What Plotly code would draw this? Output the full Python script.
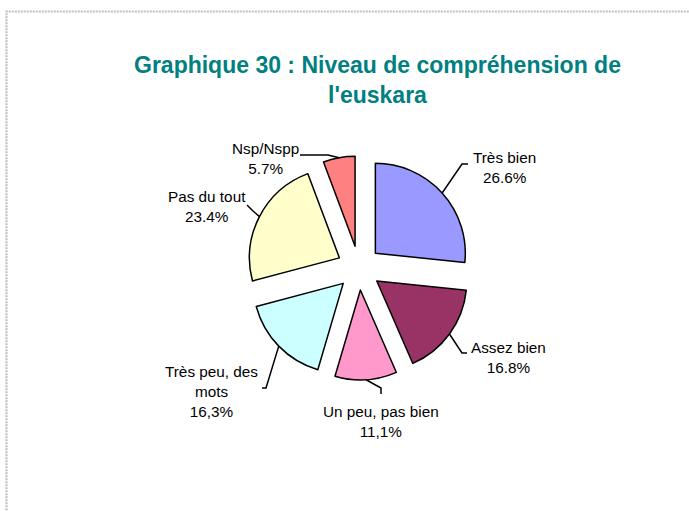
import math
import plotly.graph_objects as go

W, H = 689, 511

# ---- data ----
categories = ["Très bien", "Assez bien", "Un peu, pas bien", "Très peu, des mots", "Pas du tout", "Nsp/Nspp"]
label_lines = ["Très bien", "Assez bien", "Un peu, pas bien", "Très peu, des<br>mots", "Pas du tout", "Nsp/Nspp"]
values = [26.6, 16.8, 11.1, 16.3, 23.4, 5.7]
pct_labels = ["26.6%", "16.8%", "11,1%", "16,3%", "23.4%", "5.7%"]
colors = ["#9999FF", "#993366", "#FF99CC", "#CCFFFF", "#FFFFCC", "#FF8080"]

# ---- layout (pixels) ----
PULL = 0.245
dom_x = [247 / W, 471 / W]
dom_y = [1 - 380 / H, 1 - 156 / H]
label_pos = [(504, 167), (508, 357), (381, 421), (211, 391), (207, 206), (265, 158)]
elbows = [
    [(468, 164), (462, 164)],
    [(467, 353), (462, 353)],
    [(381, 394), (381, 388)],
    [(262, 388), (266, 388)],
    [(247, 205), (253, 211)],
    [(300, 155), (328, 155)],
]

def px(x):
    return x / W

def py(y):
    return 1 - y / H

fig = go.Figure(go.Pie(
    labels=categories,
    values=values,
    sort=False,
    direction="clockwise",
    rotation=0,
    pull=[PULL] * len(values),
    marker=dict(colors=colors, line=dict(color="black", width=1.5)),
    textinfo="none",
    hoverinfo="label+percent",
    showlegend=False,
    domain=dict(x=dom_x, y=dom_y),
))

# geometry of the pie as plotly computes it
bw = (dom_x[1] - dom_x[0]) * W
bh = (dom_y[1] - dom_y[0]) * H
r = min(bw, bh) / (2 * (1 + PULL))
cx = (dom_x[0] + dom_x[1]) / 2 * W
cy = (1 - (dom_y[0] + dom_y[1]) / 2) * H

total = sum(values)
cum = 0.0
shapes = []
annotations = []
for i, v in enumerate(values):
    mid = (cum + v / 2) / total * 2 * math.pi
    cum += v
    dx, dy = math.sin(mid), -math.cos(mid)
    tip = (cx + (1 + PULL) * r * dx, cy + (1 + PULL) * r * dy)
    pts = elbows[i] + [tip]
    path = "M {} {}".format(px(pts[0][0]), py(pts[0][1]))
    for p in pts[1:]:
        path += " L {} {}".format(px(p[0]), py(p[1]))
    shapes.append(dict(type="path", path=path, xref="paper", yref="paper",
                       line=dict(color="black", width=1.5)))
    lx, ly = label_pos[i]
    annotations.append(dict(
        text=label_lines[i] + "<br>" + pct_labels[i],
        x=px(lx), y=py(ly), xref="paper", yref="paper",
        xanchor="center", yanchor="middle", showarrow=False,
        font=dict(family="Liberation Sans, Arial, sans-serif", size=15.3, color="black"),
        align="center",
    ))

# title
annotations.append(dict(
    text="<b>Graphique 30 : Niveau de compréhension de<br>l'euskara</b>",
    x=px(377), y=py(80), xref="paper", yref="paper",
    xanchor="center", yanchor="middle", showarrow=False,
    font=dict(family="Liberation Sans, Arial, sans-serif", size=23, color="#008080"),
    align="center",
))

# dotted frame
shapes.append(dict(type="rect", xref="paper", yref="paper",
                   x0=px(6.5), x1=1.2, y0=-0.2, y1=py(11.5),
                   line=dict(color="#C0C0C0", width=2.2, dash="2px,1px"),
                   fillcolor="rgba(0,0,0,0)"))

fig.update_layout(
    width=W, height=H,
    margin=dict(l=0, r=0, t=0, b=0),
    paper_bgcolor="white", plot_bgcolor="white",
    shapes=shapes, annotations=annotations,
)

fig.write_html("out.html", config={"displayModeBar": False},
               post_script="document.body.style.margin='0';document.body.style.overflow='hidden';")
